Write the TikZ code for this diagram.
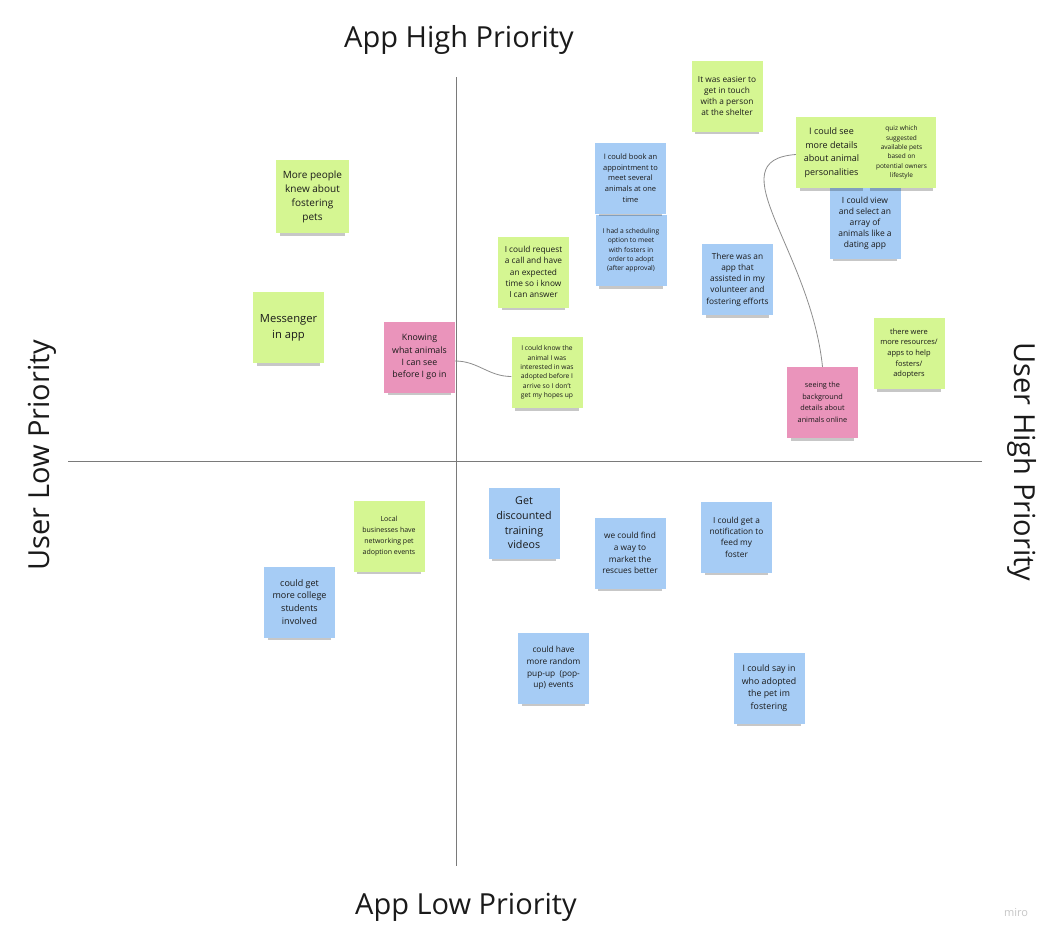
\documentclass[tikz,border=0pt]{standalone}
\usepackage{fontspec}
\setmainfont{Open Sans}
\usetikzlibrary{shadows}

\definecolor{stickygreen}{HTML}{D5F692}
\definecolor{stickyblue}{HTML}{A6CCF5}
\definecolor{stickypink}{HTML}{EA94BB}
\definecolor{inktext}{HTML}{1A1A1A}
\definecolor{axisgray}{HTML}{7A7A7A}

\begin{document}
\begin{tikzpicture}[x=1pt, y=-1pt,
    fs/.style 2 args={font=\fontsize{#1}{#2}\selectfont},
    note/.style={minimum width=71pt, minimum height=71pt, inner sep=1pt, align=center, text=inktext,
      general shadow={fill=black, opacity=0.22, shadow scale=0.9, shadow yshift=-7pt}},
    gnote/.style={note, fill=stickygreen},
    bnote/.style={note, fill=stickyblue},
    pnote/.style={note, fill=stickypink},
    title/.style={fs={29}{35}, text=inktext},
    axis/.style={draw=axisgray, line width=0.9pt},
    link/.style={draw=axisgray!85, line width=0.8pt}]
      \path[use as bounding box, fill=white] (0,0) rectangle (1057,945);

      % axes
      \coordinate (vtop) at (456,77); \coordinate (vbot) at (456,866);
      \coordinate (hleft) at (68,461); \coordinate (hright) at (982,461);
      \draw[axis] (vtop) -- (vbot);
      \draw[axis] (hleft) -- (hright);

      \node[title] (apphigh) at (459,40) {App High Priority};
      \node[title] (applow) at (466,907) {App Low Priority};
      \node[title, rotate=90] (userlow) at (42,455) {User Low Priority};
      \node[title, rotate=-90] (userhigh) at (1022,462) {User High Priority};

      % upper right
      \node[gnote, fs={8.3}{11.2}] (easier) at (727,96) {It was easier to\\get in touch\\with a person\\at the shelter};
      \node[bnote, fs={8.5}{11}] (view) at (865,223) {I could view\\and select an\\array of\\animals like a\\dating app};
      \node[gnote, fs={9}{13.5}] (details) at (831.5,152.5) {I could see\\more details\\about animal\\personalities};
      \node[gnote, minimum width=69pt, fs={6.5}{9.3}] (quiz) at (901.5,152.5) {quiz which\\suggested\\available pets\\based on\\potential owners\\lifestyle};
      \node[bnote, fs={6.7}{9.3}] (sched) at (631,250.5) {I had a scheduling\\option to meet\\with fosters in\\order to adopt\\(after approval)};
      \node[bnote, fs={7.5}{10.7}] (book) at (630.5,178) {I could book an\\appointment to\\meet several\\animals at one\\time};
      \node[gnote, fs={8.3}{11.3}] (request) at (533.5,272) {I could request\\a call and have\\an expected\\time so i know\\I can answer};
      \node[bnote, fs={8.3}{11.3}] (assist) at (737.5,279.5) {There was an\\app that\\assisted in my\\volunteer and\\fostering efforts};
      \node[gnote, fs={6.7}{9.3}] (adopted) at (547,372.5) {I could know the\\animal I was\\interested in was\\adopted before I\\arrive so I don't\\get my hopes up};
      \node[pnote, fs={7.3}{11.5}] (background) at (822.5,402.5) {seeing the\\background\\details about\\animals online};
      \node[gnote, fs={7.5}{10.7}] (resources) at (909,353.5) {there were\\more resources/\\apps to help\\fosters/\\adopters};

      % upper left
      \node[gnote, minimum size=73pt, fs={10}{14}] (aware) at (312.5,196.5) {More people\\knew about\\fostering\\pets};
      \node[gnote, fs={11.2}{15.7}] (messenger) at (288.5,327.5) {Messenger\\in app};
      \node[pnote, fs={8.8}{12.3}] (knowing) at (419.5,357) {Knowing\\what animals\\I can see\\before I go in};

      % lower half
      \node[gnote, fs={7}{10.8}] (local) at (389,536) {Local\\businesses have\\networking pet\\adoption events};
      \node[bnote, fs={9}{12.8}] (college) at (299.5,602) {could get\\more college\\students\\involved};
      \node[bnote, fs={10.7}{14.7}] (training) at (524,523) {Get\\discounted\\training\\videos};
      \node[bnote, fs={8.3}{11.8}] (market) at (630,553) {we could find\\a way to\\market the\\rescues better};
      \node[bnote, fs={8.3}{11.3}] (notify) at (736.5,537) {I could get a\\notification to\\feed my\\foster};
      \node[bnote, fs={8.3}{11.7}] (popup) at (553.5,668) {could have\\more random\\pup-up~~(pop-\\up) events};
      \node[bnote, fs={8.8}{12.5}] (sayin) at (769,688) {I could say in\\who adopted\\the pet im\\fostering};

      % connectors
      \draw[link] ([yshift=-4pt]knowing.east) to[out=0, in=180] ([yshift=-4pt]adopted.west);
      \draw[link] ([yshift=-2pt]details.west) .. controls +(-80,6) and +(-12,-117) .. (background.north);

      \node[text=gray!45, fs={11}{13}] (brand) at (1016,913) {miro};
\end{tikzpicture}
\end{document}
